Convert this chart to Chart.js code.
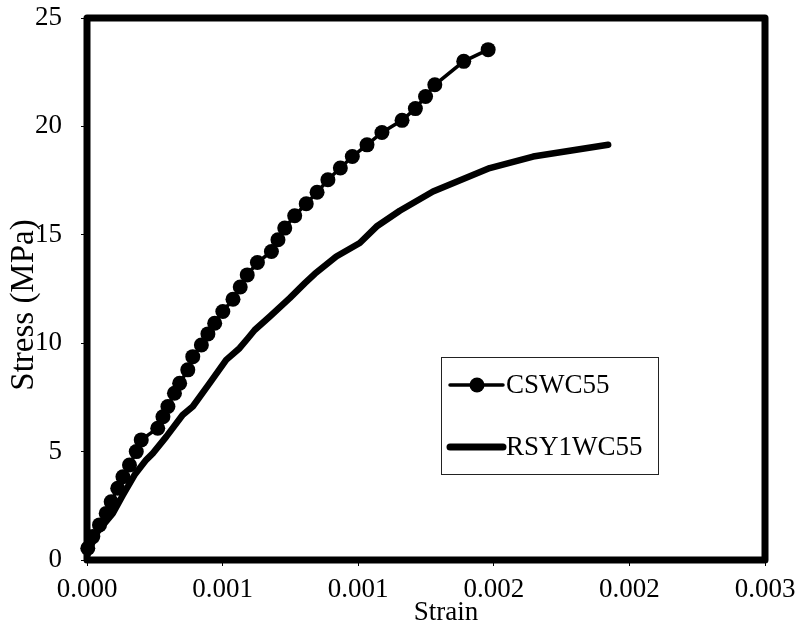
<!DOCTYPE html>
<html>
<head>
<meta charset="utf-8">
<script src="https://cdn.jsdelivr.net/npm/chart.js@4.4.0/dist/chart.umd.min.js"></script>
<style>
  html, body { margin: 0; padding: 0; background: #fff; }
</style>
</head>
<body>
<canvas id="chart" width="796" height="631"></canvas>
<script>
'use strict';
// Series
const seriesNames = ['CSWC55', 'RSY1WC55'];
const cswcStrain = [0.0000035, 0.0000257, 0.0000554, 0.000085, 0.000107, 0.000136, 0.000159, 0.000188, 0.000218, 0.000240,
  0.000313, 0.000336, 0.000358, 0.000387, 0.000410, 0.000446, 0.000468, 0.000506, 0.000535, 0.000565,
  0.000601, 0.000646, 0.000678, 0.000709, 0.000754, 0.000816, 0.000845, 0.000875, 0.000919, 0.000970,
  0.001018, 0.001066, 0.001121, 0.001174, 0.001239, 0.001305, 0.001394, 0.001453, 0.001498, 0.001539,
  0.001667, 0.001775];
const cswcStress = [0.54, 1.08, 1.62, 2.15, 2.69, 3.31, 3.84, 4.38, 5.0, 5.54,
  6.08, 6.61, 7.08, 7.69, 8.15, 8.77, 9.38, 9.92, 10.43, 10.92,
  11.46, 12.03, 12.59, 13.15, 13.72, 14.23, 14.77, 15.31, 15.88, 16.43,
  16.96, 17.54, 18.08, 18.61, 19.15, 19.72, 20.28, 20.82, 21.38, 21.92,
  23.0, 23.54];
const rsyStrain = [0.000002, 0.0000407, 0.000114, 0.000159, 0.000210, 0.000262, 0.000291, 0.000351, 0.000423, 0.000468,
  0.000542, 0.000616, 0.000675, 0.000712, 0.000742, 0.000809, 0.000897, 0.000964, 0.001008, 0.001103,
  0.001207, 0.001281, 0.001384, 0.001531, 0.001782, 0.001974, 0.002306];
const rsyStress = [0.25, 1.23, 2.15, 3.0, 3.92, 4.62, 4.92, 5.69, 6.69, 7.08,
  8.15, 9.23, 9.77, 10.23, 10.61, 11.23, 12.08, 12.77, 13.2, 14.0,
  14.62, 15.38, 16.11, 17.0, 18.08, 18.61, 19.15];
const xTicks = [0, 0.0006, 0.0012, 0.0018, 0.0024, 0.003];
const yTicks = [0, 5, 10, 15, 20, 25];
const xTitle = 'Strain';
const yTitle = 'Stress (MPa)';

const FONT = '"Liberation Serif", "Times New Roman", serif';

function toPoints(xs, ys) {
  let pts = [];
  for (let i = 0; i < xs.length; i++) {
    pts.push({ x: xs[i], y: ys[i] });
  }
  return pts;
}

// thick black frame round the plot area
const frame = {
  id: 'frame',
  beforeDatasetsDraw(chart) {
    let a = chart.chartArea;
    let ctx = chart.ctx;
    ctx.save();
    ctx.strokeStyle = '#000';
    ctx.lineWidth = 7;
    ctx.lineJoin = 'round';
    ctx.strokeRect(a.left, a.top, a.right - a.left, a.bottom - a.top);
    ctx.restore();
  }
};

// boxed legend sitting inside the plot
const boxLegend = {
  id: 'boxLegend',
  afterDatasetsDraw(chart) {
    let ctx = chart.ctx;
    let bx = 441, by = 357, bw = 217, bh = 117;
    ctx.save();
    ctx.fillStyle = '#fff';
    ctx.fillRect(bx, by, bw, bh);
    ctx.strokeStyle = '#222';
    ctx.lineWidth = 1;
    ctx.strokeRect(bx + 0.5, by + 0.5, bw, bh);
    let rows = [385, 447];
    chart.data.datasets.forEach((ds, i) => {
      let y = rows[i];
      ctx.strokeStyle = '#000';
      ctx.lineCap = 'round';
      ctx.lineWidth = i === 0 ? 3.5 : 7;
      ctx.beginPath();
      ctx.moveTo(450, y);
      ctx.lineTo(503, y);
      ctx.stroke();
      if (ds.pointRadius > 0) {
        ctx.fillStyle = '#000';
        ctx.beginPath();
        ctx.arc(477, y, 7.5, 0, Math.PI * 2);
        ctx.fill();
      }
      ctx.fillStyle = '#000';
      ctx.font = '27px ' + FONT;
      ctx.textBaseline = 'middle';
      ctx.textAlign = 'left';
      ctx.fillText(ds.label, 506, y + 1);
    });
    ctx.restore();
  }
};

// axis titles at the spots they have in the picture
const axisTitles = {
  id: 'axisTitles',
  afterDraw(chart) {
    let ctx = chart.ctx;
    ctx.save();
    ctx.fillStyle = '#000';
    ctx.textAlign = 'center';
    ctx.textBaseline = 'middle';
    ctx.font = '27px ' + FONT;
    ctx.fillText(xTitle, 446, 613);
    ctx.translate(24, 305);
    ctx.rotate(-Math.PI / 2);
    ctx.font = '33px ' + FONT;
    ctx.fillText(yTitle, 0, 0);
    ctx.restore();
  }
};

// drop the extra room Chart.js keeps for half-labels at the scale ends
function noEndPadding(scale) {
  scale.paddingTop = 0;
  scale.paddingBottom = 0;
  scale.paddingLeft = 0;
  scale.paddingRight = 0;
}

let chartCanvas = document.getElementById('chart');
let stressChart = new Chart(chartCanvas, {
  type: 'scatter',
  data: {
    datasets: [{
      label: seriesNames[0],
      data: toPoints(cswcStrain, cswcStress),
      showLine: true,
      borderColor: '#000',
      borderWidth: 3.5,
      pointRadius: 7.5,
      pointBorderWidth: 0,
      pointBackgroundColor: '#000',
      pointBorderColor: '#000',
      clip: false
    },
    {
      label: seriesNames[1],
      data: toPoints(rsyStrain, rsyStress),
      showLine: true,
      borderColor: '#000',
      borderWidth: 6.5,
      borderCapStyle: 'round',
      borderJoinStyle: 'round',
      pointRadius: 0,
      clip: false
    }]
  },
  options: {
    responsive: false,
    animation: false,
    layout: { padding: { top: 18, right: 31, left: 0, bottom: 0 } },
    plugins: {
      legend: { display: false },
      tooltip: { enabled: false }
    },
    scales: {
      x: {
        type: 'linear',
        min: xTicks[0],
        max: xTicks[xTicks.length - 1],
        afterBuildTicks: (scale) => { scale.ticks = xTicks.map(v => ({ value: v })); },
        afterFit: (scale) => { scale.height = 71; noEndPadding(scale); },
        border: { display: false },
        grid: { drawOnChartArea: false, drawTicks: true, tickLength: 6, tickColor: '#000', tickWidth: 1 },
        ticks: {
          color: '#000',
          font: { family: FONT, size: 27 },
          padding: 8,
          maxRotation: 0,
          autoSkip: false,
          callback: (v) => Number(v).toFixed(3)
        }
      },
      y: {
        min: yTicks[0],
        max: yTicks[yTicks.length - 1],
        afterBuildTicks: (scale) => { scale.ticks = yTicks.map(v => ({ value: v })); },
        afterFit: (scale) => { scale.width = 87; noEndPadding(scale); },
        border: { display: false },
        grid: { drawOnChartArea: false, drawTicks: true, tickLength: 6, tickColor: '#000', tickWidth: 1 },
        ticks: {
          color: '#000',
          font: { family: FONT, size: 27 },
          padding: 19,
          autoSkip: false
        }
      }
    }
  },
  plugins: [frame, boxLegend, axisTitles]
});
</script>
</body>
</html>
